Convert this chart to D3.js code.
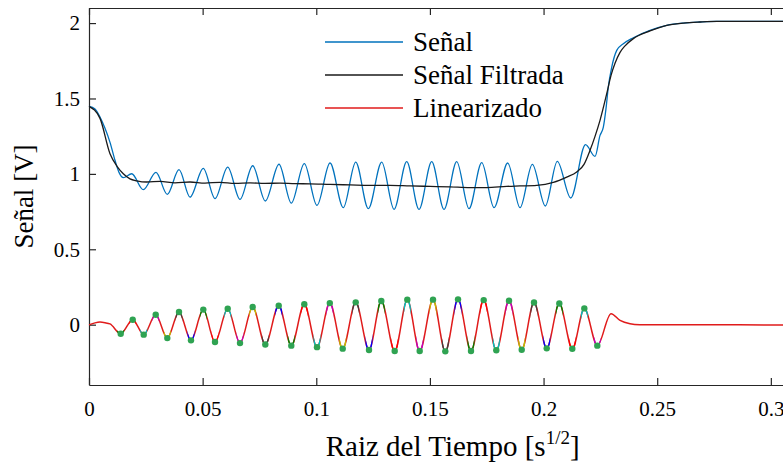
<!DOCTYPE html>
<html>
<head>
<meta charset="utf-8">
<script src="https://cdn.jsdelivr.net/npm/d3@7"></script>
<style>
  body { margin: 0; background: #fff; }
  svg { display: block; font-family: "Liberation Serif", "Times New Roman", serif; }
  .axis path, .axis line { stroke: #262626; stroke-width: 1.2; }
</style>
</head>
<body>
<svg id="chart" width="783" height="463"></svg>
<script>
// eje x: raiz del tiempo [s^1/2], eje y: señal [V]
const xTicks = [0, 0.05, 0.1, 0.15, 0.2, 0.25, 0.3]
const xTickLabels = ['0', '0.05', '0.1', '0.15', '0.2', '0.25', '0.3']
const yTicks = [0, 0.5, 1, 1.5, 2]
const yTickLabels = ['0', '0.5', '1', '1.5', '2']
const seriesNames = ['Señal', 'Señal Filtrada', 'Linearizado']

// Señal (azul)
const senalT = [0, 0.00264, 0.00484, 0.00704, 0.00924, 0.01144, 0.0132,
  0.01509, 0.01879, 0.02389, 0.02948, 0.03445, 0.0396, 0.04444, 0.05029, 0.05544, 0.06103,
  0.06644, 0.07203, 0.07757, 0.0836, 0.08901, 0.09473, 0.10032, 0.10604, 0.11189, 0.11735,
  0.1229, 0.12879, 0.1342, 0.13979, 0.1452, 0.15079, 0.1562, 0.16179, 0.1672, 0.17279,
  0.1782, 0.18423, 0.18965, 0.19506, 0.20077, 0.20605, 0.21195, 0.21846, 0.22264,
  0.22484, 0.2263, 0.22748, 0.22849, 0.23, 0.2322, 0.2351, 0.2395, 0.24684, 0.25419,
  0.2615, 0.26883, 0.2762, 0.29, 0.32]
const senalV = [1.448, 1.431, 1.377, 1.302, 1.209, 1.09, 1.01,
  0.975, 1.001, 0.895, 1.01, 0.864, 1.028, 0.846, 1.037, 0.836, 1.045,
  0.831, 1.054, 0.82, 1.064, 0.806, 1.068, 0.791, 1.072, 0.776, 1.078,
  0.769, 1.078, 0.765, 1.081, 0.765, 1.081, 0.765, 1.081, 0.769, 1.074,
  0.776, 1.072, 0.776, 1.063, 0.787, 1.083, 0.84, 1.194, 1.116,
  1.255, 1.31, 1.434, 1.576, 1.708, 1.819, 1.863, 1.903, 1.952, 1.985,
  2.0, 2.007, 2.011, 2.011, 2.011]

// Señal Filtrada (negro)
const filtT = [0, 0.00484, 0.00924, 0.01232, 0.01509, 0.01804, 0.02099, 0.02539, 0.03124,
  0.03784, 0.04444, 0.05104, 0.05764, 0.06424, 0.07084, 0.07744, 0.08404, 0.09064, 0.09724,
  0.10604, 0.11484, 0.12364, 0.13244, 0.14124, 0.15004, 0.15884, 0.16764, 0.17499, 0.18379,
  0.18965, 0.19699, 0.2043, 0.21019, 0.21459, 0.2178, 0.22044, 0.22264, 0.22484, 0.22779,
  0.22968, 0.23144, 0.23365, 0.23585, 0.2395, 0.24684, 0.25419, 0.2615, 0.26883, 0.2762,
  0.29, 0.32]
const filtV = [1.448, 1.368, 1.134, 1.05, 1.001, 0.967, 0.954, 0.946, 0.95,
  0.94, 0.946, 0.939, 0.944, 0.937, 0.94, 0.937, 0.939, 0.935, 0.934,
  0.93, 0.927, 0.924, 0.924, 0.92, 0.917, 0.914, 0.909, 0.909, 0.917,
  0.92, 0.924, 0.944, 0.979, 1.012, 1.063, 1.156, 1.249, 1.355, 1.532,
  1.653, 1.733, 1.806, 1.849, 1.897, 1.948, 1.985, 2.0, 2.007, 2.011,
  2.011, 2.011]

// Linearizado (rojo): inicio, extremos (con punto verde) y cola
const linStartT = [0, 0.00264, 0.00484, 0.00704, 0.00924]
const linStartV = [-0.001, 0.012, 0.017, 0.013, 0.005]
const extT = [0.01395, 0.01923, 0.02407, 0.02935, 0.03445, 0.0396, 0.04488, 0.05029,
  0.05544, 0.06103, 0.06644, 0.07203, 0.07757, 0.08347, 0.08901, 0.09473, 0.10032,
  0.10595, 0.11163, 0.11735, 0.1232, 0.12861, 0.13451, 0.14005, 0.14551, 0.15136,
  0.15677, 0.16236, 0.16808, 0.17367, 0.17921, 0.1848, 0.19039, 0.1958, 0.20139,
  0.20693, 0.21265, 0.21794, 0.22365]
const extV = [-0.06, 0.033, -0.066, 0.066, -0.089, 0.084, -0.104, 0.1,
  -0.115, 0.106, -0.122, 0.117, -0.131, 0.126, -0.139, 0.135, -0.149,
  0.143, -0.159, 0.148, -0.168, 0.157, -0.175, 0.166, -0.175, 0.166,
  -0.177, 0.168, -0.175, 0.163, -0.17, 0.159, -0.166, 0.147, -0.157,
  0.14, -0.16, 0.108, -0.139]
const linEndT = [0.22969, 0.23365, 0.23805, 0.24245, 0.24685, 0.28, 0.32]
const linEndV = [0.073, 0.0285, 0.0066, 0, -0.001, -0.001, -0.002]

// colores por segmento (orden b g r c m y k)
const segColors = ['#0000ff', '#008000', '#ff0000', '#00bfbf', '#bf00bf', '#bfbf00', '#404040']

;(function () {
  const serif = '"Liberation Serif", "Times New Roman", serif'
  const svg = d3.select('#chart')
  const left = 89
  const right = 816.3
  const top = 8
  const bottom = 385

  const x = d3.scaleLinear().domain([0, 0.32]).range([left, right])
  const y = d3.scaleLinear().domain([-0.4, 2.1]).range([bottom, top])

  const zip = (ts, vs) => ts.map((t, i) => [t, vs[i]])
  const senal = zip(senalT, senalV)
  const filtrada = zip(filtT, filtV)
  const extremos = zip(extT, extV)
  const lineal = zip(linStartT, linStartV).concat(extremos, zip(linEndT, linEndV))

  const line = d3.line()
    .x(d => x(d[0]))
    .y(d => y(d[1]))
    .curve(d3.curveMonotoneX)

  // marco y ejes (ticks hacia dentro)
  const axes = [
    svg.append('g').attr('class', 'axis')
      .attr('transform', `translate(0,${bottom})`)
      .call(d3.axisBottom(x).tickValues(xTicks).tickFormat((d, i) => xTickLabels[i])
        .tickSizeInner(-7).tickSizeOuter(0).tickPadding(16)),
    svg.append('g').attr('class', 'axis')
      .attr('transform', `translate(0,${top})`)
      .call(d3.axisTop(x).tickValues(xTicks).tickFormat('').tickSizeInner(-7).tickSizeOuter(0)),
    svg.append('g').attr('class', 'axis')
      .attr('transform', `translate(${left},0)`)
      .call(d3.axisLeft(y).tickValues(yTicks).tickFormat((d, i) => yTickLabels[i])
        .tickSizeInner(-7).tickSizeOuter(0).tickPadding(9)),
    svg.append('g').attr('class', 'axis')
      .attr('transform', `translate(${right},0)`)
      .call(d3.axisRight(y).tickValues(yTicks).tickFormat('').tickSizeInner(-7).tickSizeOuter(0))
  ]
  axes.forEach(a => a.attr('font-family', serif).attr('font-size', 21))
  svg.selectAll('.axis text').attr('fill', '#000')

  // series
  svg.append('path').datum(senal)
    .attr('fill', 'none').attr('stroke', '#0072bd').attr('stroke-width', 1.3)
    .attr('d', line)
  svg.append('path').datum(filtrada)
    .attr('fill', 'none').attr('stroke', '#1a1a1a').attr('stroke-width', 1.3)
    .attr('d', line)
  svg.append('path').datum(lineal)
    .attr('fill', 'none').attr('stroke', '#e01b1b').attr('stroke-width', 1.5)
    .attr('d', line)

  // tramos de color alrededor de cada extremo
  const defs = svg.append('defs')
  extremos.forEach((d, i) => {
    defs.append('clipPath').attr('id', 'seg' + i)
      .append('rect')
      .attr('x', x(d[0]) - 3.5).attr('width', 7)
      .attr('y', top).attr('height', bottom - top)
    svg.append('path').datum(lineal)
      .attr('clip-path', `url(#seg${i})`)
      .attr('fill', 'none').attr('stroke', segColors[(i + 1) % 7]).attr('stroke-width', 1.5)
      .attr('d', line)
  })

  svg.append('g').selectAll('circle')
    .data(extremos)
    .join('circle')
    .attr('cx', d => x(d[0]))
    .attr('cy', d => y(d[1]))
    .attr('r', 3.2)
    .attr('fill', '#2fa352')

  // etiquetas de ejes
  const xLabel = svg.append('text')
    .attr('x', (left + right) / 2).attr('y', 455.5)
    .attr('text-anchor', 'middle').attr('font-size', 29)
  xLabel.append('tspan').text('Raiz del Tiempo [s')
  xLabel.append('tspan').attr('dy', -12).attr('font-size', 19).text('1/2')
  xLabel.append('tspan').attr('dy', 12).text(']')

  svg.append('text')
    .attr('transform', `translate(32.5,${(top + bottom) / 2}) rotate(-90)`)
    .attr('text-anchor', 'middle').attr('font-size', 27)
    .text('Señal [V]')

  // leyenda
  const legendColors = ['#0072bd', '#1a1a1a', '#e01b1b']
  const legend = svg.append('g').attr('transform', 'translate(325,42)')
  seriesNames.forEach((name, i) => {
    const g = legend.append('g').attr('transform', `translate(0,${i * 33})`)
    g.append('line').attr('x1', 0).attr('x2', 78)
      .attr('stroke', legendColors[i]).attr('stroke-width', 1.3)
    g.append('text').attr('x', 88).attr('y', 9)
      .attr('font-size', 27).text(name)
  })
})()
</script>
</body>
</html>
